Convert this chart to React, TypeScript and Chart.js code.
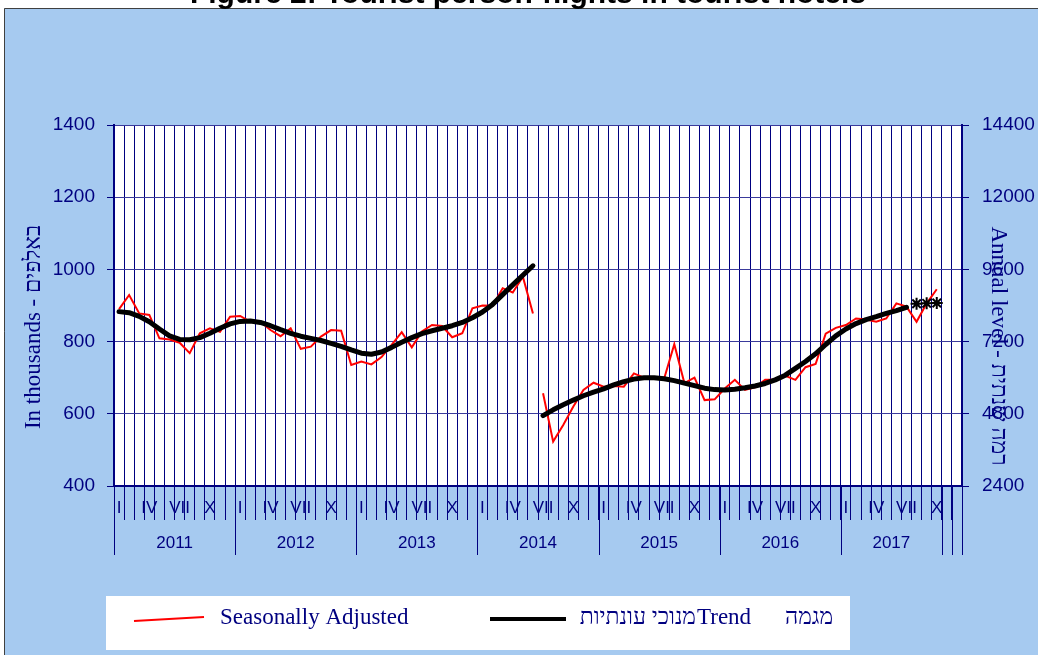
import React, { useEffect, useRef } from 'react';
import { Chart, registerables } from 'chart.js';

Chart.register(...registerables);

const TITLE = 'Figure 2: Tourist person-nights in tourist hotels';
const LEFT_TITLE = 'In thousands - באלפים';
const RIGHT_TITLE = 'Annual level - רמה שנתית';
const LEGEND_SA = 'Seasonally Adjusted';
const LEGEND_TREND_HE = 'מנוכי עונתיות';
const LEGEND_TREND = 'Trend';
const LEGEND_TREND_HE2 = 'מגמה';

const YEARS = ['2011', '2012', '2013', '2014', '2015', '2016', '2017'];
const MONTH_ROMAN = ['I', '', '', 'IV', '', '', 'VII', '', '', 'X', '', ''];
// year groups on the category axis (label, number of months)
const YEAR_GROUP_LABELS = ['2011', '2012', '2013', '2014', '2015', '2016', '2017', '', ''];
const YEAR_GROUP_SIZES = [12, 12, 12, 12, 12, 12, 10, 1, 1];

const LEFT_TICKS = [400, 600, 800, 1000, 1200, 1400];
const RIGHT_TICKS = [2400, 4800, 7200, 9600, 12000, 14400];

// Seasonally adjusted (thousands), Jan 2011 .. Dec 2017
const seasonallyAdjusted: (number | null)[] = [
  890, 929, 878, 874, 809, 806, 797, 768, 823, 837, 827, 869,
  871, 855, 855, 832, 815, 837, 780, 786, 814, 832, 830, 735,
  745, 737, 757, 791, 826, 784, 828, 846, 843, 812, 823, 892,
  900, 899, 948, 936, 980, 878, 657, 523, 569, 620, 666, 686,
  675, 677, 675, 712, 700, 700, 698, 793, 685, 700, 638, 640,
  670, 694, 666, 673, 694, 694, 705, 694, 729, 738, 822, 838,
  846, 864, 861, 855, 864, 906, 897, 855, 906, 945, null, null,
];

// Trend (thousands)
const trend: (number | null)[] = [
  883, 880, 870, 855, 835, 816, 806, 805, 811, 823, 837, 849,
  856, 857, 853, 844, 833, 823, 815, 809, 803, 795, 787, 777,
  768, 765, 771, 784, 798, 811, 822, 830, 837, 844, 853, 866,
  882, 903, 930, 957, 984, 1010, 595, 611, 625, 638, 650, 660,
  669, 680, 689, 696, 700, 700, 697, 692, 685, 678, 671, 667,
  666, 668, 672, 677, 684, 694, 707, 726, 745, 766, 792, 816,
  835, 850, 861, 869, 878, 886, 895, null, null, null, null, null,
];

// Trend estimate markers
const trendEstimate: (number | null)[] = [
  null, null, null, null, null, null, null, null, null, null, null, null,
  null, null, null, null, null, null, null, null, null, null, null, null,
  null, null, null, null, null, null, null, null, null, null, null, null,
  null, null, null, null, null, null, null, null, null, null, null, null,
  null, null, null, null, null, null, null, null, null, null, null, null,
  null, null, null, null, null, null, null, null, null, null, null, null,
  null, null, null, null, null, null, null, 905, 906, 907, null, null,
];

const BREAK_INDEX = 41; // series break between Jul and Aug 2014

const NAVY = '#000080';
const BG = '#A6CAF0';
const SANS = '"Liberation Sans", Arial, sans-serif';
const SERIF = '"Liberation Serif", "Times New Roman", serif';

const categories: string[] = [];
YEARS.forEach((y) => {
  for (let m = 1; m <= 12; m++) categories.push(`${y}-${String(m).padStart(2, '0')}`);
});

const decorPlugin = {
  id: 'decor',
  beforeDraw(chart: any) {
    const { ctx, chartArea: a, width, height } = chart;
    ctx.save();
    ctx.fillStyle = '#ffffff';
    ctx.fillRect(0, 0, width, height);
    ctx.fillStyle = BG;
    ctx.fillRect(4, 8, width - 4, height - 8);
    ctx.strokeStyle = '#404040';
    ctx.lineWidth = 1;
    ctx.beginPath();
    ctx.moveTo(4.5, height);
    ctx.lineTo(4.5, 8.5);
    ctx.lineTo(width, 8.5);
    ctx.stroke();
    ctx.fillStyle = '#ffffff';
    ctx.fillRect(a.left, a.top, a.right - a.left, a.bottom - a.top);
    ctx.fillStyle = '#000000';
    ctx.font = `bold 30px ${SANS}`;
    ctx.textAlign = 'center';
    ctx.textBaseline = 'alphabetic';
    ctx.fillText(TITLE, 528, 3);
    ctx.restore();
  },
  afterDraw(chart: any) {
    const { ctx, chartArea: a } = chart;
    const x = chart.scales.x;
    ctx.save();
    // year separators and year labels
    ctx.strokeStyle = NAVY;
    ctx.lineWidth = 1;
    ctx.fillStyle = NAVY;
    ctx.font = `17px ${SANS}`;
    ctx.textAlign = 'center';
    ctx.textBaseline = 'middle';
    let start = 0;
    const bounds: number[] = [0];
    YEAR_GROUP_SIZES.forEach((n, gi) => {
      const end = start + n;
      bounds.push(end);
      const label = YEAR_GROUP_LABELS[gi];
      if (label) {
        const cx = x.getPixelForValue((start + end) / 2 - 0.5);
        ctx.fillText(label, cx, 543);
      }
      start = end;
    });
    bounds.forEach((b) => {
      const px = Math.round(x.getPixelForValue(b - 0.5)) + 0.5;
      ctx.beginPath();
      ctx.moveTo(px, a.bottom);
      ctx.lineTo(px, 555);
      ctx.stroke();
    });
    // axis titles
    ctx.font = `23px ${SERIF}`;
    ctx.fillStyle = NAVY;
    ctx.textAlign = 'center';
    ctx.textBaseline = 'middle';
    ctx.save();
    ctx.translate(34, 327);
    ctx.rotate(-Math.PI / 2);
    ctx.fillText(LEFT_TITLE, 0, 0);
    ctx.restore();
    ctx.save();
    ctx.translate(998, 346);
    ctx.rotate(Math.PI / 2);
    ctx.fillText(RIGHT_TITLE, 0, 0);
    ctx.restore();
    // legend
    const ds = chart.data.datasets;
    ctx.fillStyle = '#ffffff';
    ctx.fillRect(106, 596, 744, 54);
    ctx.strokeStyle = ds[2].borderColor;
    ctx.lineWidth = 2;
    ctx.beginPath();
    ctx.moveTo(134, 621);
    ctx.lineTo(204, 617);
    ctx.stroke();
    ctx.strokeStyle = ds[1].borderColor;
    ctx.lineWidth = 4;
    ctx.beginPath();
    ctx.moveTo(490, 619);
    ctx.lineTo(566, 619);
    ctx.stroke();
    ctx.fillStyle = NAVY;
    ctx.font = `23px ${SERIF}`;
    ctx.textBaseline = 'alphabetic';
    ctx.textAlign = 'left';
    ctx.fillText(LEGEND_SA, 220, 624);
    ctx.textAlign = 'right';
    ctx.fillText(LEGEND_TREND_HE, 696, 624);
    ctx.textAlign = 'left';
    ctx.fillText(LEGEND_TREND, 697, 624);
    ctx.fillText(LEGEND_TREND_HE2, 785, 624);
    ctx.restore();
  },
};

export default function App() {
  const ref = useRef<HTMLCanvasElement>(null);
  useEffect(() => {
    if (!ref.current) return;
    const segColor = (color: string) => (ctx: any) =>
      ctx.p0DataIndex === BREAK_INDEX ? 'rgba(0,0,0,0)' : color;
    const chart = new Chart(ref.current, {
      type: 'line',
      data: {
        labels: categories,
        datasets: [
          {
            label: 'Trend estimate',
            data: trendEstimate,
            showLine: false,
            borderColor: '#000000',
            backgroundColor: '#000000',
            pointStyle: 'star',
            pointRadius: 6,
            pointBorderWidth: 2,
          },
          {
            label: 'Trend',
            data: trend,
            borderColor: '#000000',
            borderWidth: 5,
            pointRadius: 0,
            tension: 0,
            borderCapStyle: 'round',
            borderJoinStyle: 'round',
            segment: { borderColor: segColor('#000000') },
          },
          {
            label: 'Seasonally Adjusted',
            data: seasonallyAdjusted,
            borderColor: '#ff0000',
            borderWidth: 2,
            pointRadius: 0,
            tension: 0,
            segment: { borderColor: segColor('#ff0000') },
          },
        ],
      },
      options: {
        animation: false,
        responsive: false,
        devicePixelRatio: 1,
        layout: { padding: { top: 125, left: 0, right: 0, bottom: 0 } },
        plugins: { legend: { display: false }, tooltip: { enabled: false }, title: { display: false } },
        scales: {
          x: {
            type: 'category',
            offset: true,
            afterFit: (s: any) => { s.height = 169; },
            grid: {
              display: true,
              offset: true,
              color: NAVY,
              lineWidth: 1,
              tickLength: 34,
              tickColor: NAVY,
              drawTicks: true,
            },
            border: { display: true, color: NAVY, width: 2 },
            ticks: {
              autoSkip: false,
              maxRotation: 0,
              minRotation: 0,
              padding: -22,
              color: NAVY,
              font: { family: SANS, size: 17 },
              callback: (_v: any, i: number) => (i < 82 ? MONTH_ROMAN[i % 12] : ''),
            },
          },
          y: {
            position: 'left',
            min: LEFT_TICKS[0],
            max: LEFT_TICKS[LEFT_TICKS.length - 1],
            afterFit: (s: any) => { s.width = 114; },
            afterBuildTicks: (s: any) => { s.ticks = LEFT_TICKS.map((v) => ({ value: v })); },
            grid: { color: '#3a3a9c', lineWidth: 1, tickLength: 7, tickColor: NAVY },
            border: { display: true, color: NAVY, width: 2 },
            ticks: {
              padding: 12,
              color: NAVY,
              font: { family: SANS, size: 19 },
              callback: (v: any) => String(v),
            },
          },
          y1: {
            position: 'right',
            min: RIGHT_TICKS[0],
            max: RIGHT_TICKS[RIGHT_TICKS.length - 1],
            afterFit: (s: any) => { s.width = 76; },
            afterBuildTicks: (s: any) => { s.ticks = RIGHT_TICKS.map((v) => ({ value: v })); },
            grid: { drawOnChartArea: false, tickLength: 7, tickColor: NAVY },
            border: { display: true, color: NAVY, width: 2 },
            ticks: {
              padding: 13,
              color: NAVY,
              font: { family: SANS, size: 19 },
              callback: (v: any) => String(v),
            },
          },
        },
      },
      plugins: [decorPlugin],
    } as any);
    return () => chart.destroy();
  }, []);
  return (
    <div style={{ position: 'absolute', left: 0, top: 0, width: 1038, height: 655 }}>
      <canvas ref={ref} width={1038} height={655} style={{ display: 'block' }} />
    </div>
  );
}
